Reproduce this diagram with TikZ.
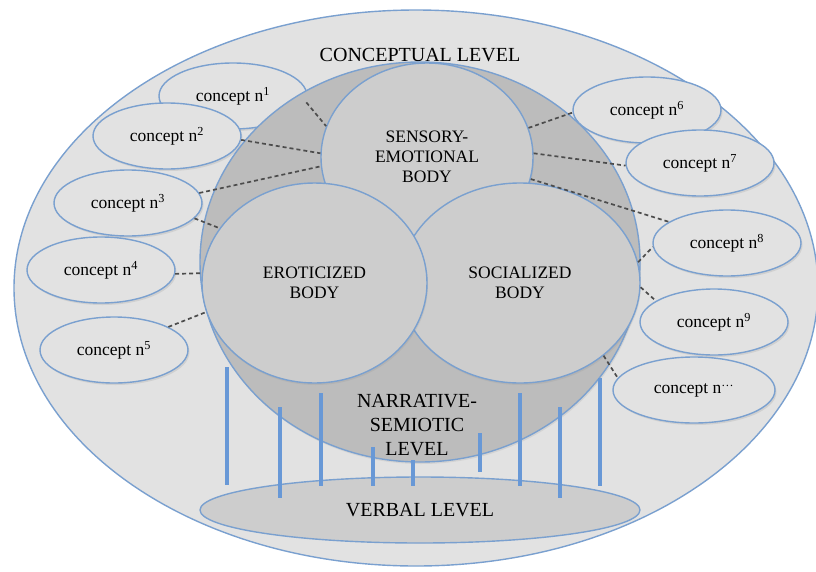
\documentclass[tikz,border=0pt]{standalone}
\usepackage{fontspec}
\setmainfont{Liberation Serif}
\usetikzlibrary{shapes.geometric, shadows}

\definecolor{rim}{RGB}{122,160,207}
\definecolor{tieblue}{RGB}{104,152,214}
\definecolor{palegray}{RGB}{226,226,226}
\definecolor{bodygray}{RGB}{205,205,205}
\definecolor{levelgray}{RGB}{188,188,188}

\tikzset{
  blob/.style={ellipse, draw=rim, line width=1.4pt, inner sep=0pt},
  concept/.style={blob, fill=palegray, minimum width=148pt, minimum height=66pt,
    drop shadow={opacity=0.18, shadow xshift=1.5pt, shadow yshift=-2pt},
    font=\fontsize{17.5}{20}\selectfont},
  body/.style={blob, fill=bodygray, align=center,
    drop shadow={opacity=0.15, shadow xshift=1pt, shadow yshift=-2pt},
    font=\fontsize{17.5}{20}\selectfont},
  levellabel/.style={align=center, font=\fontsize{20}{24}\selectfont},
  link/.style={draw=black!70, line width=1.7pt, dash pattern=on 4pt off 3pt},
  tie/.style={draw=tieblue, line width=3.2pt},
}

\begin{document}
\begin{tikzpicture}[x=1pt, y=-1pt]
  \useasboundingbox (0,0) rectangle (816,571);
  \clip (0,0) rectangle (816,571);

  % conceptual level
  \node[blob, fill=palegray, minimum width=804pt, minimum height=556pt] (world) at (416,288) {};
  \node[levellabel] (conceptual) at (420,55) {CONCEPTUAL LEVEL};

  % concepts around the bodies
  \foreach \name/\x/\y/\k in {n1/233/96/1, n2/167/136/2, n3/128/203/3, n4/101/270/4, n5/114/350/5,
                              n6/647/110/6, n7/700/163/7, n8/727/243/8, n9/714/322/9}
    \node[concept] (\name) at (\x,\y) {concept n\textsuperscript{\k}};
  \node[concept, minimum width=162pt] (nx) at (694,390) {concept n\textsuperscript{\dots}};

  % narrative-semiotic level and the three bodies
  \node[blob, fill=levelgray, minimum width=440pt, minimum height=400pt,
        drop shadow={opacity=0.15, shadow xshift=1pt, shadow yshift=-2pt}] (narrative) at (420,262) {};
  \node[body, minimum width=212pt, minimum height=188pt] (sensory) at (427,157) {SENSORY-\\EMOTIONAL\\BODY};
  \node[body, minimum width=240pt, minimum height=200pt] (social) at (520,283) {SOCIALIZED\\BODY};
  \node[body, minimum width=225pt, minimum height=200pt] (erotic) at (314.5,283) {EROTICIZED\\BODY};
  \node[levellabel] (narrlabel) at (417,425) {NARRATIVE-\\SEMIOTIC\\LEVEL};

  % verbal level
  \node[blob, fill=bodygray, minimum width=440pt, minimum height=66pt, levellabel] (verbal) at (420,510) {VERBAL LEVEL};

  % ties down to the verbal level
  \foreach \x/\top/\bot in {227/367/485, 280/407/498, 321/393/486, 373/447/486, 413/460/486,
                            480/433/472, 520/393/486, 560/407/498, 600/378/486}
    \draw[tie] (\x,\top) -- (\x,\bot);

  % links between concepts and bodies
  \draw[link] (n1.-5) -- (sensory.163);
  \draw[link] (n2.-3) -- (sensory.178);
  \draw[link] (n3.8) -- (sensory.185);
  \draw[link] (n3.-13) -- (erotic.150);
  \draw[link] (n4.-3) -- (erotic.175);
  \draw[link] (n5.23) -- (erotic.195);
  \draw[link] (sensory.16) -- (n6.182);
  \draw[link] (sensory.2) -- (n7.182);
  \draw[link] (sensory.-12) -- (n8.160);
  \draw[link] (social.10) -- (n8.183);
  \draw[link] (social.-2) -- (n9.160);
  \draw[link] (social.-41) -- (nx.171);
\end{tikzpicture}
\end{document}
